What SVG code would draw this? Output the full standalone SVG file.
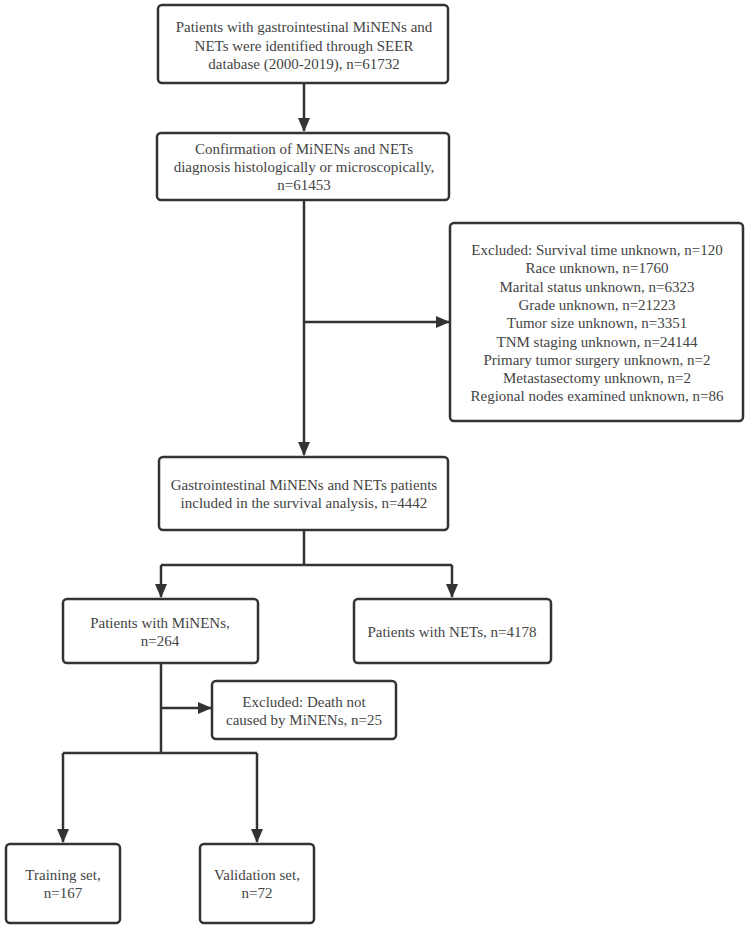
<svg xmlns="http://www.w3.org/2000/svg" width="746" height="928" viewBox="0 0 746 928">
<style>
.box{fill:#fff;stroke:#333;stroke-width:2.5}
.t{font-family:'Liberation Serif','Times New Roman',Times,'DejaVu Serif',serif;font-size:15px;fill:#444;text-anchor:middle;dominant-baseline:central}
.ln{fill:none;stroke:#333;stroke-width:2.5}
</style>
<defs>
<marker id="ah" markerWidth="14" markerHeight="12" refX="13" refY="6" orient="auto" markerUnits="userSpaceOnUse">
<path d="M0,0 L14,6 L0,12 Z" fill="#333"/>
</marker>
</defs>
<rect width="746" height="928" fill="#fff"/>
<g id="connectors">
<path class="ln" d="M304,83 V131" marker-end="url(#ah)"/>
<path class="ln" d="M304,200 V455" marker-end="url(#ah)"/>
<path class="ln" d="M304,322 H449" marker-end="url(#ah)"/>
<path class="ln" d="M304,530 V565"/>
<path class="ln" d="M161,565 H452"/>
<path class="ln" d="M161,565 V597" marker-end="url(#ah)"/>
<path class="ln" d="M452,565 V597" marker-end="url(#ah)"/>
<path class="ln" d="M161,663 V753"/>
<path class="ln" d="M161,708 H211" marker-end="url(#ah)"/>
<path class="ln" d="M63,753 H257"/>
<path class="ln" d="M63,753 V842" marker-end="url(#ah)"/>
<path class="ln" d="M257,753 V842" marker-end="url(#ah)"/>
</g>
<g id="n1">
<rect class="box" x="158" y="5" width="290" height="78" rx="4"/>
<text class="t" x="304" y="27" font-family="Liberation Serif, serif">Patients with gastrointestinal MiNENs and</text>
<text class="t" x="304" y="46">NETs were identified through SEER</text>
<text class="t" x="304" y="64">database (2000-2019), n=61732</text>
</g>
<g id="n2">
<rect class="box" x="157" y="133" width="292" height="67" rx="4"/>
<text class="t" x="304" y="149">Confirmation of MiNENs and NETs</text>
<text class="t" x="304" y="167">diagnosis histologically or microscopically,</text>
<text class="t" x="304" y="185">n=61453</text>
</g>
<g id="n3">
<rect class="box" x="450" y="223" width="293" height="198" rx="4"/>
<text class="t" x="597" y="250">Excluded: Survival time unknown, n=120</text>
<text class="t" x="597" y="268">Race unknown, n=1760</text>
<text class="t" x="597" y="287">Marital status unknown, n=6323</text>
<text class="t" x="597" y="305">Grade unknown, n=21223</text>
<text class="t" x="597" y="323">Tumor size unknown, n=3351</text>
<text class="t" x="597" y="342">TNM staging unknown, n=24144</text>
<text class="t" x="597" y="360">Primary tumor surgery unknown, n=2</text>
<text class="t" x="597" y="378">Metastasectomy unknown, n=2</text>
<text class="t" x="597" y="396">Regional nodes examined unknown, n=86</text>
</g>
<g id="n4">
<rect class="box" x="159" y="457" width="289" height="73" rx="4"/>
<text class="t" x="304" y="485">Gastrointestinal MiNENs and NETs patients</text>
<text class="t" x="304" y="503">included in the survival analysis, n=4442</text>
</g>
<g id="n5">
<rect class="box" x="63" y="599" width="195" height="64" rx="4"/>
<text class="t" x="160" y="623">Patients with MiNENs,</text>
<text class="t" x="160" y="641">n=264</text>
</g>
<g id="n6">
<rect class="box" x="354" y="599" width="197" height="64" rx="4"/>
<text class="t" x="452" y="632">Patients with NETs, n=4178</text>
</g>
<g id="n7">
<rect class="box" x="212" y="681" width="184" height="58" rx="4"/>
<text class="t" x="304" y="702">Excluded: Death not</text>
<text class="t" x="304" y="720">caused by MiNENs, n=25</text>
</g>
<g id="n8">
<rect class="box" x="6" y="844" width="114" height="79" rx="4"/>
<text class="t" x="63" y="875">Training set,</text>
<text class="t" x="63" y="893">n=167</text>
</g>
<g id="n9">
<rect class="box" x="200" y="844" width="114" height="79" rx="4"/>
<text class="t" x="257" y="875">Validation set,</text>
<text class="t" x="257" y="893">n=72</text>
</g>
</svg>
